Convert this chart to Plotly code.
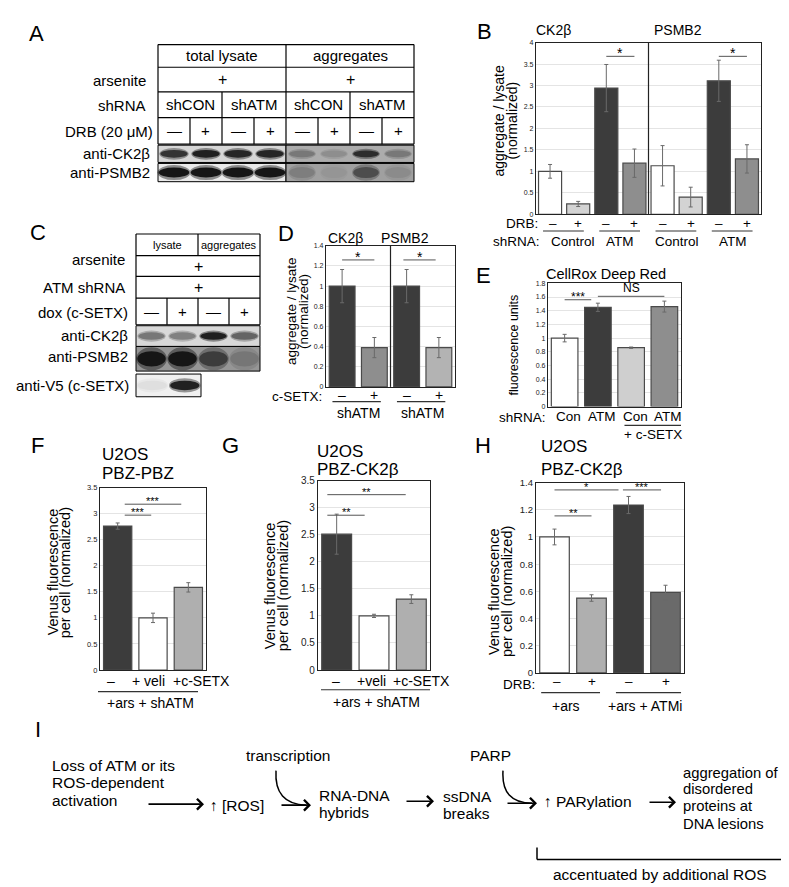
import plotly.graph_objects as go

W, H = 789, 887
FONT = "Liberation Sans, Arial, Helvetica, sans-serif"

# ---------------- data ----------------
# Panel A blot (band intensities 0..1), lanes: shCON -, shCON +, shATM -, shATM +
a_header = ["total lysate", "aggregates"]
a_shrna = ["shCON", "shATM", "shCON", "shATM"]
a_drb = ["—", "+", "—", "+", "—", "+", "—", "+"]
a_rows = ["arsenite", "shRNA", "DRB (20 μM)", "anti-CK2β", "anti-PSMB2"]
a_ck2b_lysate = [0.85, 0.95, 0.92, 0.92]
a_ck2b_aggregates = [0.35, 0.2, 0.85, 0.35]
a_psmb2_lysate = [1.0, 1.0, 1.0, 1.0]
a_psmb2_aggregates = [0.25, 0.08, 0.6, 0.15]

# Panel C blot
c_header = ["lysate", "aggregates"]
c_dox = ["—", "+", "—", "+"]
c_rows = ["arsenite", "ATM shRNA", "dox (c-SETX)", "anti-CK2β", "anti-PSMB2", "anti-V5 (c-SETX)"]
c_ck2b = [0.5, 0.45, 0.95, 0.6]
c_psmb2 = [1.0, 1.0, 0.7, 0.25]
c_v5 = [0.08, 0.95]

# Panel B
b_titles = ["CK2β", "PSMB2"]
b_drb = ["–", "+", "–", "+", "–", "+", "–", "+"]
b_shrna = ["Control", "ATM", "Control", "ATM"]
b_values = [1.0, 0.24, 2.94, 1.19, 1.13, 0.40, 3.11, 1.29]
b_errors = [0.16, 0.06, 0.55, 0.33, 0.47, 0.23, 0.48, 0.33]
b_sig = [(2, 3, 3.68, "*"), (6, 7, 3.68, "*")]

# Panel D
d_titles = ["CK2β", "PSMB2"]
d_setx = ["–", "+", "–", "+"]
d_groups = ["shATM", "shATM"]
d_values = [1.0, 0.39, 1.0, 0.39]
d_errors = [0.165, 0.10, 0.165, 0.10]
d_sig = [(0.0, 1.0, 1.26, "*"), (1.9, 2.9, 1.26, "*")]

# Panel E
e_title = "CellRox Deep Red"
e_labels = ["Con", "ATM", "Con", "ATM"]
e_values = [1.0, 1.45, 0.86, 1.46]
e_errors = [0.055, 0.06, 0.01, 0.08]
e_sig = [(0.0, 0.8, 1.56, "***"), (1.0, 3.0, 1.61, "NS")]

# Panel F
f_labels = ["–", "+ veli", "+c-SETX"]
f_values = [2.76, 1.0, 1.585]
f_errors = [0.06, 0.09, 0.09]
f_sig = [(0.2, 0.95, 2.97, "***"), (0.2, 1.8, 3.18, "***")]

# Panel G
g_labels = ["–", "+veli", "+c-SETX"]
g_values = [2.51, 1.0, 1.31]
g_errors = [0.37, 0.03, 0.08]
g_sig = [(-0.25, 0.75, 2.86, "**"), (-0.25, 1.85, 3.24, "**")]

# Panel H
h_drb = ["–", "+", "–", "+"]
h_groups = ["+ars", "+ars + ATMi"]
h_values = [1.0, 0.551, 1.235, 0.592]
h_errors = [0.058, 0.024, 0.063, 0.053]
h_sig = [(0.0, 1.0, 1.155, "**"), (0.0, 1.73, 1.346, "*"), (1.85, 2.88, 1.346, "***")]

# ---------------- helpers ----------------
def px(x):
    return x / W


def py(y):
    return 1 - y / H


shapes = []
annotations = []


def gray(level):
    l = int(max(0, min(255, round(level))))
    return f"rgb({l},{l},{l})"


def band_color(bg, v):
    return gray(bg - v * (bg - 22))


def rect(x0, y0, x1, y1, fill=None, lc="#000", lw=1):
    shapes.append(dict(type="rect", xref="paper", yref="paper",
                       x0=px(x0), x1=px(x1), y0=py(y1), y1=py(y0),
                       fillcolor=fill if fill else "rgba(0,0,0,0)",
                       line=dict(color=lc, width=lw)))


def seg(x0, y0, x1, y1, lc="#000", lw=1, xref="paper", yref="paper"):
    if xref == "paper":
        x0, x1 = px(x0), px(x1)
    if yref == "paper":
        y0, y1 = py(y0), py(y1)
    shapes.append(dict(type="line", xref=xref, yref=yref, x0=x0, x1=x1,
                       y0=y0, y1=y1, line=dict(color=lc, width=lw)))


def ell(x0, y0, x1, y1, fill):
    shapes.append(dict(type="circle", xref="paper", yref="paper",
                       x0=px(x0), x1=px(x1), y0=py(y1), y1=py(y0),
                       fillcolor=fill, line=dict(width=0)))


def text(t, x, y, size=14, xanchor="center", yanchor="middle",
         xref="paper", yref="paper", angle=0, yshift=0):
    if xref == "paper":
        x = px(x)
    if yref == "paper":
        y = py(y)
    annotations.append(dict(text=t, x=x, y=y, xref=xref, yref=yref,
                            xanchor=xanchor, yanchor=yanchor, showarrow=False,
                            textangle=angle, yshift=yshift, borderpad=0,
                            font=dict(size=size, color="#000", family=FONT)))


def blot(x_left, lane_w, y0, y1, bg, vals, bw=0.85, bh=0.5):
    n = len(vals)
    rect(x_left, y0, x_left + lane_w * n, y1, fill=gray(bg), lc=gray(bg), lw=0)
    cy = (y0 + y1) / 2
    for i, v in enumerate(vals):
        cx = x_left + lane_w * (i + 0.5)
        hw = lane_w * bw / 2
        hh = (y1 - y0) * bh / 2
        ell(cx - hw * 1.08, cy - hh * 1.5, cx + hw * 1.08, cy + hh * 1.5, band_color(bg, v * 0.45))
        ell(cx - hw, cy - hh, cx + hw, cy + hh, band_color(bg, v))
    rect(x_left, y0, x_left + lane_w * n, y1, lc="#000", lw=1)


# ---------------- panel letters ----------------
for letter, (lx, ly) in zip("ABCDEFGHI", [(28, 20), (476, 18), (30, 222), (278, 223), (475, 265),
                                          (29, 437), (222, 437), (475, 437), (30, 725)]):
    text(letter, lx, ly, size=22)

# ---------------- panel A ----------------
A_L, A_LW = 150, 32
A_R = A_L + A_LW * 8
A_M = A_L + A_LW * 4
ay = [31, 54, 79, 105, 132]
for yy in ay:
    seg(A_L, yy, A_R, yy, lw=1.2)
for xx in (A_L, A_M, A_R):
    seg(xx, ay[0], xx, ay[4], lw=1.2)
for k in (2, 6):
    seg(A_L + A_LW * k, ay[2], A_L + A_LW * k, ay[4], lw=1.2)
for k in (1, 3, 5, 7):
    seg(A_L + A_LW * k, ay[3], A_L + A_LW * k, ay[4], lw=1.2)
for i, t in enumerate(a_header):
    text(t, A_L + A_LW * (4 * i + 2), (ay[0] + ay[1]) / 2, size=15)
    text("+", A_L + A_LW * (4 * i + 2), (ay[1] + ay[2]) / 2, size=16)
for i, t in enumerate(a_shrna):
    text(t, A_L + A_LW * (2 * i + 1), (ay[2] + ay[3]) / 2, size=15)
for i, t in enumerate(a_drb):
    text(t, A_L + A_LW * (i + 0.5), (ay[3] + ay[4]) / 2, size=15)
blot(A_L, A_LW, 133, 150.5, 214, a_ck2b_lysate, bw=0.85, bh=0.45)
blot(A_M, A_LW, 133, 150.5, 172, a_ck2b_aggregates, bw=0.8, bh=0.4)
blot(A_L, A_LW, 151.5, 170, 234, a_psmb2_lysate, bw=0.95, bh=0.55)
blot(A_M, A_LW, 151.5, 170, 160, a_psmb2_aggregates, bw=0.8, bh=0.6)
for t, (rx, ry) in zip(a_rows, [(139, 67), (139, 93), (146, 119), (143, 141), (143, 161)]):
    text(t, rx, ry, size=15, xanchor="right")

# ---------------- panel C ----------------
C_L, C_LW = 128, 31
C_R = C_L + C_LW * 4
C_M = C_L + C_LW * 2
cyv = [223, 245, 266, 288, 315]
for yy in cyv:
    seg(C_L, yy, C_R, yy, lw=1.2)
for xx in (C_L, C_R):
    seg(xx, cyv[0], xx, cyv[4], lw=1.2)
seg(C_M, cyv[0], C_M, cyv[1], lw=1.2)
for k in (1, 2, 3):
    seg(C_L + C_LW * k, cyv[3], C_L + C_LW * k, cyv[4], lw=1.2)
text(c_header[0], C_L + C_LW, (cyv[0] + cyv[1]) / 2, size=11)
text(c_header[1], C_L + C_LW * 3, (cyv[0] + cyv[1]) / 2, size=11)
text("+", C_M, (cyv[1] + cyv[2]) / 2, size=16)
text("+", C_M, (cyv[2] + cyv[3]) / 2, size=16)
for i, t in enumerate(c_dox):
    text(t, C_L + C_LW * (i + 0.5), (cyv[3] + cyv[4]) / 2, size=15)
blot(C_L, C_LW, 316, 337, 216, c_ck2b, bw=0.85, bh=0.36)
blot(C_L, C_LW, 337, 362, 150, c_psmb2, bw=0.92, bh=0.62)
blot(C_L, C_LW + 1.5, 365, 388, 240, c_v5, bw=0.9, bh=0.42)
for t, (rx, ry) in zip(c_rows, [(118, 249), (118, 277), (121, 303), (121, 326), (121, 347), (122, 377)]):
    text(t, rx, ry, size=15, xanchor="right")

# ---------------- bar charts ----------------
panels = [
    # xdomain px, ydomain px (top, bottom), ymax, dtick, values, errors, colors, tick size, bar width
    ((528, 753), (29, 203), 4.0, 0.5, b_values, b_errors,
     ["#ffffff", "#d3d3d3", "#3c3c3c", "#8e8e8e"] * 2, 7, 0.82),
    ((318, 447), (235, 378), 1.4, 0.2, d_values, d_errors,
     ["#3c3c3c", "#8e8e8e", "#3c3c3c", "#b3b3b3"], 7, 0.8),
    ((540, 673), (273, 398), 1.8, 0.2, e_values, e_errors,
     ["#ffffff", "#3c3c3c", "#cfcfcf", "#8e8e8e"], 7, 0.8),
    ((92, 198), (480, 665), 3.5, 0.5, f_values, f_errors,
     ["#3c3c3c", "#ffffff", "#afafaf"], 7.5, 0.8),
    ((310, 422), (473, 665), 3.5, 0.5, g_values, g_errors,
     ["#3c3c3c", "#ffffff", "#afafaf"], 10, 0.8),
    ((528, 676), (475, 668), 1.4, 0.2, h_values, h_errors,
     ["#ffffff", "#afafaf", "#3c3c3c", "#6a6a6a"], 9.5, 0.8),
]

fig = go.Figure()
layout_axes = {}
for k, (xd, yd, ymax, dt, vals, errs, cols, tsz, bwid) in enumerate(panels, start=1):
    xn = "x" if k == 1 else f"x{k}"
    yn = "y" if k == 1 else f"y{k}"
    n = len(vals)
    fig.add_trace(go.Bar(
        x=list(range(n)), y=vals, width=bwid, xaxis=xn, yaxis=yn,
        marker=dict(color=cols, line=dict(color="#4a4a4a", width=1.2)),
        error_y=dict(type="data", array=errs, visible=True, color="#6a6a6a",
                     thickness=1, width=2),
        showlegend=False, hoverinfo="skip"))
    layout_axes["xaxis" if k == 1 else f"xaxis{k}"] = dict(
        domain=[px(xd[0]), px(xd[1])], range=[-0.5, n - 0.5], anchor=yn,
        showticklabels=False, showgrid=False, zeroline=False, ticks="",
        showline=True, mirror=True, linecolor="#222", linewidth=1.2, fixedrange=True)
    layout_axes["yaxis" if k == 1 else f"yaxis{k}"] = dict(
        domain=[py(yd[1]), py(yd[0])], range=[0, ymax], dtick=dt, tick0=0, anchor=xn,
        showgrid=True, gridcolor="#e4e4e4", gridwidth=1, zeroline=False, ticks="",
        showline=True, mirror=True, linecolor="#222", linewidth=1.2,
        tickfont=dict(size=tsz, color="#222", family=FONT), fixedrange=True)


def sig(xn, yn, brackets, size=12):
    for x0, x1, lvl, lab in brackets:
        seg(x0, lvl, x1, lvl, lc="#555", lw=1, xref=xn, yref=yn)
        if lab == "NS":
            text(lab, (x0 + x1) / 2, lvl, size=12, xref=xn, yref=yn, yanchor="bottom", yshift=0)
        else:
            text(lab, (x0 + x1) / 2, lvl, size=size, xref=xn, yref=yn, yshift=3)


# ---- B ----
seg(3.5, 0, 3.5, 4, lc="#222", lw=1.2, xref="x", yref="y")
text(b_titles[0], 545, 16, size=14)
text(b_titles[1], 670, 16, size=14)
sig("x", "y", b_sig, size=14)
text("DRB:", 531, 212, size=13.5, xanchor="right")
for i, t in enumerate(b_drb):
    text(t, i + (0.1 if i == 0 else 0), 212, size=13.5, xref="x")
for j, t in enumerate(b_shrna):
    seg(2 * j - 0.25, 220, 2 * j + 1.2, 220, lc="#333", lw=1.2, xref="x")
    text(t, 2 * j + 0.5 + (0.3 if j == 0 else 0), 231, size=13.5, xref="x")
text("shRNA:", 533, 231, size=13.5, xanchor="right")
text("aggregate / lysate", 491, 108, size=14, angle=-90)
text("(normalized)", 504, 108, size=14, angle=-90)

# ---- D ----
seg(1.5, 0, 1.5, 1.4, lc="#222", lw=1.2, xref="x2", yref="y2")
text(d_titles[0], 337, 227, size=14)
text(d_titles[1], 397, 227, size=14)
sig("x2", "y2", d_sig, size=14)
text("c-SETX:", 315, 388, size=13.5, xanchor="right")
for i, t in enumerate(d_setx):
    text(t, i, 386, size=14, xref="x2")
for j, t in enumerate(d_groups):
    seg(2 * j - 0.3, 393, 2 * j + 1.2, 393, lc="#333", lw=1.2, xref="x2")
    text(t, 2 * j + 0.5, 404, size=14, xref="x2")
text("aggregate / lysate", 284, 302, size=13.5, angle=-90)
text("(normalized)", 296, 302, size=13.5, angle=-90)

# ---- E ----
text(e_title, 598, 264, size=14.5)
sig("x3", "y3", e_sig, size=12)
text("shRNA:", 539, 409, size=13.5, xanchor="right")
for i, t in enumerate(e_labels):
    text(t, i + 0.12, 408, size=13.5, xref="x3")
seg(1.8, 417, 3.55, 417, lc="#333", lw=1.2, xref="x3")
text("+ c-SETX", 645, 426, size=13.5)
text("fluorescence units", 506, 336, size=12.5, angle=-90)

# ---- F ----
text("U2OS", 93, 447, size=17, xanchor="left")
text("PBZ-PBZ", 93, 466, size=17, xanchor="left")
sig("x4", "y4", f_sig, size=11)
for t, lx in zip(f_labels, [103, 140, 193]):
    text(t, lx, 676, size=14)
seg(90, 687, 190, 687, lc="#333", lw=1.2)
text("+ars + shATM", 142, 698, size=14)
text("Venus fluorescence", 45, 566, size=14.5, angle=-90)
text("per cell (normalized)", 57, 566, size=14.5, angle=-90)

# ---- G ----
text("U2OS", 308, 443, size=17, xanchor="left")
text("PBZ-CK2β", 308, 462, size=17, xanchor="left")
sig("x5", "y5", g_sig, size=11)
for t, lx in zip(g_labels, [328, 363, 413]):
    text(t, lx, 676, size=14)
seg(313, 685, 422, 685, lc="#333", lw=1.2)
text("+ars + shATM", 368, 697, size=14)
text("Venus fluorescence", 262, 580, size=14.5, angle=-90)
text("per cell (normalized)", 275, 580, size=14.5, angle=-90)

# ---- H ----
text("U2OS", 532, 438, size=17, xanchor="left")
text("PBZ-CK2β", 532, 462, size=17, xanchor="left")
sig("x6", "y6", h_sig, size=11)
text("DRB:", 528, 680, size=13.5, xanchor="right")
for i, t in enumerate(h_drb):
    text(t, i + (0.08 if i == 0 else 0), 677, size=13.5, xref="x6")
seg(-0.36, 688, 1.23, 688, lc="#333", lw=1.2, xref="x6")
seg(1.66, 688, 3.42, 688, lc="#333", lw=1.2, xref="x6")
text(h_groups[0], 558, 701, size=14)
text(h_groups[1], 637, 701, size=14)
text("Venus fluorescence", 486, 586, size=14.5, angle=-90)
text("per cell (normalized)", 499, 586, size=14.5, angle=-90)

# ---------------- panel I (scheme) ----------------
IS = 15.5
for t, yy in zip(["Loss of ATM or its", "ROS-dependent", "activation"], [762, 779, 797]):
    text(t, 43, yy, size=IS, xanchor="left")
text("transcription", 280, 752, size=IS)
text("PARP", 482, 752, size=IS)
text("↑ [ROS]", 201, 802, size=IS, xanchor="left")
text("RNA-DNA", 310, 792, size=IS, xanchor="left")
text("hybrids", 310, 809, size=IS, xanchor="left")
text("ssDNA", 434, 793, size=IS, xanchor="left")
text("breaks", 434, 810, size=IS, xanchor="left")
text("↑ PARylation", 535, 798, size=IS, xanchor="left")
for t, yy in zip(["aggregation of", "disordered", "proteins at", "DNA lesions"], [769, 786, 803, 821]):
    text(t, 674, yy, size=14.8, xanchor="left")
text("accentuated by additional ROS", 652, 872, size=IS)

for x0, x1, yy in [(139, 196, 801), (272, 303, 802), (397, 426, 798), (498, 529, 800), (640, 668, 799)]:
    annotations.append(dict(x=px(x1), y=py(yy), ax=-(x1 - x0), ay=0, xref="paper", yref="paper",
                            text="", showarrow=True, arrowhead=4, arrowsize=1.3, arrowwidth=1.6,
                            arrowcolor="#000", standoff=0))
for (sx, sy), (cx, cy), (ex, ey) in [((268, 767), (266, 801), (298, 802)),
                                     ((495, 767), (493, 800), (524, 800))]:
    shapes.append(dict(type="path", xref="paper", yref="paper",
                       path=f"M {px(sx)},{py(sy)} Q {px(cx)},{py(cy)} {px(ex)},{py(ey)}",
                       line=dict(color="#000", width=1.5)))
# bracket
seg(529, 845, 529, 857, lw=1.5)
seg(781, 845, 781, 857, lw=1.5)
seg(529, 857, 781, 857, lw=1.5)

fig.update_layout(
    width=W, height=H, margin=dict(l=0, r=0, t=0, b=0),
    paper_bgcolor="white", plot_bgcolor="white",
    font=dict(family=FONT, color="#000"),
    shapes=shapes, annotations=annotations, showlegend=False,
    **layout_axes)

fig.write_html("out.html")
